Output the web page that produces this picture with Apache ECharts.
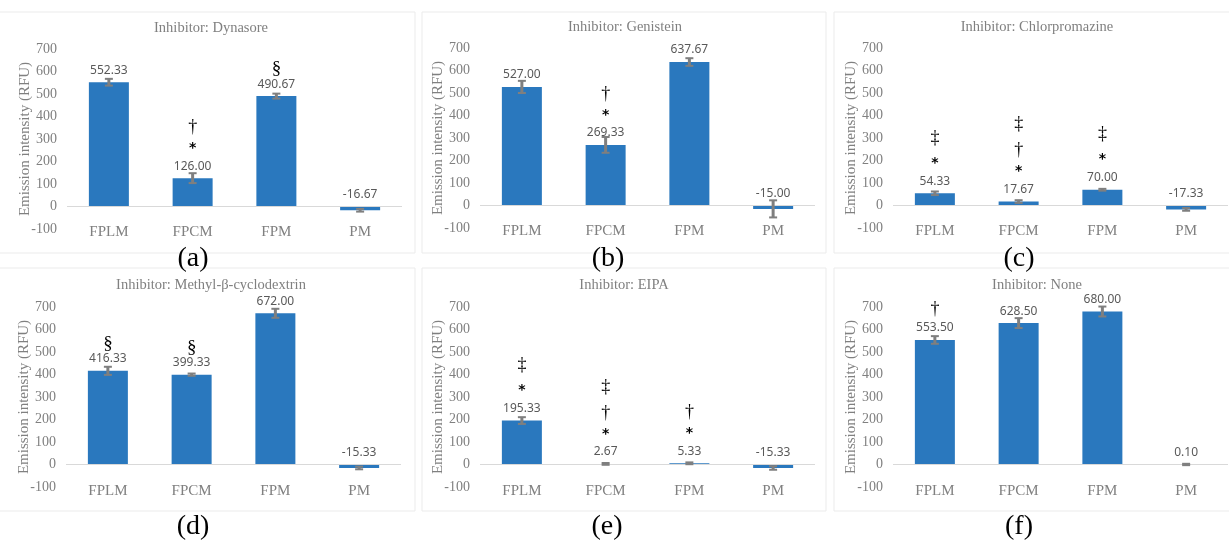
<!DOCTYPE html>
<html>
<head>
<meta charset="utf-8">
<script src="https://cdn.jsdelivr.net/npm/echarts@6/dist/echarts.min.js"></script>
<style>html,body{margin:0;padding:0;background:#fff}#c{width:1229px;height:540px}</style>
</head>
<body>
<div id="c"></div>
<script>
const categories = ['FPLM', 'FPCM', 'FPM', 'PM'];
const yAxisTitle = 'Emission intensity (RFU)';

const dynasoreValues = [552.33, 126.00, 490.67, -16.67];
const dynasoreErrors = [15, 22, 11, 6];
const dynasoreMarks = ['', '†\n*', '§', ''];

const genisteinValues = [527.00, 269.33, 637.67, -15.00];
const genisteinErrors = [27, 35, 17, 38];
const genisteinMarks = ['', '†\n*', '', ''];

const chlorpromazineValues = [54.33, 17.67, 70.00, -17.33];
const chlorpromazineErrors = [8, 6, 4, 6];
const chlorpromazineMarks = ['‡\n*', '‡\n†\n*', '‡\n*', ''];

const mbcdValues = [416.33, 399.33, 672.00, -15.33];
const mbcdErrors = [18, 5, 20, 6];
const mbcdMarks = ['§', '§', '', ''];

const eipaValues = [195.33, 2.67, 5.33, -15.33];
const eipaErrors = [15, 4, 4, 8];
const eipaMarks = ['‡\n*', '‡\n†\n*', '†\n*', ''];

const noneValues = [553.50, 628.50, 680.00, 0.10];
const noneErrors = [17, 22, 22, 3];
const noneMarks = ['†', '', '', ''];

const panelTitles = ['Inhibitor: Dynasore', 'Inhibitor: Genistein', 'Inhibitor: Chlorpromazine',
  'Inhibitor: Methyl-β-cyclodextrin', 'Inhibitor: EIPA', 'Inhibitor: None'];
const panelLetters = ['(a)', '(b)', '(c)', '(d)', '(e)', '(f)'];

const panelValues = [dynasoreValues, genisteinValues, chlorpromazineValues, mbcdValues, eipaValues, noneValues];
const panelErrors = [dynasoreErrors, genisteinErrors, chlorpromazineErrors, mbcdErrors, eipaErrors, noneErrors];
const panelMarks = [dynasoreMarks, genisteinMarks, chlorpromazineMarks, mbcdMarks, eipaMarks, noneMarks];

// layout
const gridLefts = [67, 480, 893, 66, 480, 893];
const gridTops = [49, 48, 48, 307, 307, 307];
const gridW = 335, gridH = 180;
const titlePos = [[211, 28], [625, 27], [1037, 27], [211, 285], [624, 285], [1037, 285]];
const letterPos = [[193, 259], [608, 259], [1019, 259], [193, 527], [607, 527], [1019, 527]];
const boxes = [[-2, 12, 417, 241], [422, 12, 404, 241], [834, 12, 400, 241],
  [-2, 268, 417, 243], [422, 268, 404, 243], [834, 268, 400, 243]];

const SERIF = 'Liberation Serif, Times New Roman, serif';
const GRAY = '#808080';

const grid = [], xAxis = [], yAxis = [], series = [], graphic = [];

boxes.forEach(b => {
  graphic.push({type: 'rect', shape: {x: b[0], y: b[1], width: b[2], height: b[3]},
    style: {fill: '#fff', stroke: '#ebebeb', lineWidth: 1}, z: -10, silent: true});
});

function markToken(c) {
  if (c === '*') return '{star|*}';
  if (c === '§') return '{sec|§}';
  if (c === '‡') return '{ddag|‡}';
  return '{dag|' + c + '}';
}

for (let i = 0; i < 6; i++) {
  const values = panelValues[i], errors = panelErrors[i], marks = panelMarks[i];
  grid.push({left: gridLefts[i], top: gridTops[i], width: gridW, height: gridH});
  xAxis.push({
    type: 'category', gridIndex: i, data: categories, position: 'bottom',
    axisLine: {show: false, onZero: false}, axisTick: {show: false},
    axisLabel: {margin: i < 3 ? -4 : -3, fontFamily: SERIF, fontSize: 15, color: GRAY}
  });
  yAxis.push({
    type: 'value', gridIndex: i, min: -100, max: 700, interval: 100,
    axisLine: {show: false}, axisTick: {show: false}, splitLine: {show: false},
    axisLabel: {margin: 10, fontFamily: SERIF, fontSize: 14, color: GRAY},
    name: yAxisTitle, nameLocation: 'middle', nameGap: 34, nameMoveOverlap: false,
    nameTextStyle: {fontFamily: SERIF, fontSize: 15, color: GRAY}
  });
  series.push({
    type: 'bar', xAxisIndex: i, yAxisIndex: i, data: values, barWidth: 40,
    itemStyle: {color: '#2a78be'},
    label: {
      show: true, position: 'top', distance: 4,
      formatter: p => {
        const m = marks[p.dataIndex];
        let s = '';
        if (m) s = m.split('\n').map(markToken).join('\n') + '\n';
        return s + '{val|' + Number(p.value).toFixed(2) + '}';
      },
      rich: {
        val: {fontFamily: 'Noto Sans, sans-serif', fontSize: 12, color: '#595959', lineHeight: 16},
        star: {fontFamily: 'DejaVu Sans, sans-serif', fontWeight: 'bold', fontSize: 14, color: '#000', lineHeight: 20},
        dag: {fontFamily: SERIF, fontSize: 18, color: '#000', lineHeight: 22},
        ddag: {fontFamily: SERIF, fontSize: 18, color: '#000', lineHeight: 30},
        sec: {fontFamily: SERIF, fontSize: 19, color: '#000', lineHeight: 14}
      }
    },
    markLine: {
      silent: true, symbol: 'none', label: {show: false},
      lineStyle: {color: '#d9d9d9', width: 1, type: 'solid'},
      data: [{yAxis: 0}]
    }
  });
  series.push({
    type: 'custom', xAxisIndex: i, yAxisIndex: i, z: 5,
    data: categories.map((c, k) => [k, values[k], errors[k]]),
    renderItem: (params, api) => {
      const x = api.value(0), v = api.value(1), e = api.value(2);
      const t = api.coord([x, v + e]), b = api.coord([x, v - e]);
      const hw = 4;
      const st = {stroke: '#7f7f7f', lineWidth: 3};
      const cs = {stroke: '#7f7f7f', lineWidth: 2};
      return {type: 'group', children: [
        {type: 'line', shape: {x1: t[0], y1: t[1], x2: b[0], y2: b[1]}, style: st},
        {type: 'line', shape: {x1: t[0] - hw, y1: t[1], x2: t[0] + hw, y2: t[1]}, style: cs},
        {type: 'line', shape: {x1: b[0] - hw, y1: b[1], x2: b[0] + hw, y2: b[1]}, style: cs}
      ]};
    }
  });
  graphic.push({type: 'text', x: titlePos[i][0], y: titlePos[i][1],
    style: {text: panelTitles[i], fontFamily: SERIF, fontSize: 14.5, fill: GRAY, align: 'center', verticalAlign: 'middle'}});
  graphic.push({type: 'text', x: letterPos[i][0], y: letterPos[i][1],
    style: {text: panelLetters[i], fontFamily: SERIF, fontSize: 28, fill: '#000', align: 'center', verticalAlign: 'middle'}});
}

const chart = echarts.init(document.getElementById('c'), null, {renderer: 'canvas'});
chart.setOption({animation: false, backgroundColor: '#fff', grid, xAxis, yAxis, series, graphic});
</script>
</body>
</html>
